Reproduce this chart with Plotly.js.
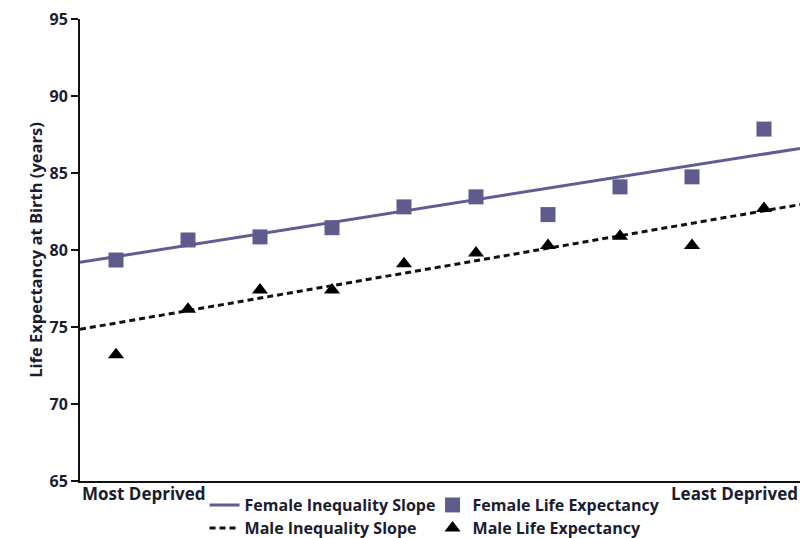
<!DOCTYPE html>
<html>
<head>
<meta charset="utf-8">
<script src="https://cdn.plot.ly/plotly-3.0.1.min.js"></script>
<style>html,body{margin:0;padding:0;background:#fff;}#chart{width:805px;height:538px;}</style>
</head>
<body>
<div id="chart"></div>
<script>
// Deprivation deciles (position 1 = most deprived, 10 = least deprived)
var decilePos = [0.5, 1.5, 2.5, 3.5, 4.5, 5.5, 6.5, 7.5, 8.5, 9.5];
var femaleLE = [79.35, 80.65, 80.85, 81.45, 82.8, 83.45, 82.3, 84.1, 84.75, 87.85];
var maleLE = [73.2, 76.15, 77.4, 77.4, 79.1, 79.8, 80.3, 80.9, 80.3, 82.7];
// Inequality slope end points (at the axis edges)
var slopeX = [0, 10];
var femaleSlope = [79.2, 86.6];
var maleSlope = [74.85, 82.95];
var xEndLabels = ["Most Deprived", "Least Deprived"];
var yTicks = [65, 70, 75, 80, 85, 90, 95];

var txtColor = '#1c1c30';
var fnt = '"Open Sans", "Liberation Sans", sans-serif';

var traces = [
  {x: slopeX, y: femaleSlope, mode: 'lines', name: 'Female Inequality Slope', legend: 'legend',
   line: {color: '#615d94', width: 3}},
  {x: decilePos, y: femaleLE, mode: 'markers', name: 'Female Life Expectancy', legend: 'legend',
   marker: {symbol: 'square', size: 15, color: '#5f5b8c'}},
  {x: slopeX, y: maleSlope, mode: 'lines', name: 'Male Inequality Slope', legend: 'legend2',
   line: {color: '#111111', width: 3, dash: '6px,4px'}},
  {x: decilePos, y: maleLE, mode: 'markers', name: 'Male Life Expectancy', legend: 'legend2',
   marker: {symbol: 'triangle-up', size: 14, color: '#000000'}}
];

var legFont = {family: fnt, size: 16, color: txtColor, weight: 'bold'};
var layout = {
  width: 805, height: 538,
  margin: {l: 80, r: 5, t: 19, b: 57, autoexpand: false},
  paper_bgcolor: '#fff', plot_bgcolor: '#fff',
  font: {family: fnt, color: txtColor, size: 14, weight: 'bold'},
  showlegend: true,
  legend: {orientation: 'h', x: 0.173, xanchor: 'left', y: -0.052, yanchor: 'middle',
           itemwidth: 30, entrywidth: 183, tracegroupgap: 0, font: legFont, bgcolor: 'rgba(0,0,0,0)'},
  legend2: {orientation: 'h', x: 0.173, xanchor: 'left', y: -0.102, yanchor: 'middle',
           itemwidth: 30, entrywidth: 183, tracegroupgap: 0, font: legFont, bgcolor: 'rgba(0,0,0,0)'},
  xaxis: {range: [0, 10], showgrid: false, zeroline: false, showline: true,
          linecolor: '#111', linewidth: 2, showticklabels: false, ticks: '', fixedrange: true},
  yaxis: {range: [65, 95], tickvals: yTicks, showgrid: false, zeroline: false,
          showline: true, linecolor: '#111', linewidth: 2, ticks: 'outside', ticklen: 7,
          tickwidth: 2, tickcolor: '#111',
          tickfont: {family: fnt, size: 16, color: txtColor, weight: 'bold'},
          title: {text: 'Life Expectancy at Birth (years)', standoff: 3,
                  font: {family: fnt, size: 16.5, color: txtColor, weight: 'bold'}}},
  annotations: [
    {xref: 'paper', yref: 'paper', x: 0, y: 0, xanchor: 'left', yanchor: 'top', yshift: 1,
     text: xEndLabels[0], showarrow: false, font: {family: fnt, size: 17, color: txtColor, weight: 'bold'}},
    {xref: 'paper', yref: 'paper', x: 1, y: 0, xanchor: 'right', yanchor: 'top', yshift: 1,
     text: xEndLabels[1], showarrow: false, font: {family: fnt, size: 17, color: txtColor, weight: 'bold'}}
  ]
};

Plotly.newPlot('chart', traces, layout, {displayModeBar: false, staticPlot: true});
</script>
</body>
</html>
